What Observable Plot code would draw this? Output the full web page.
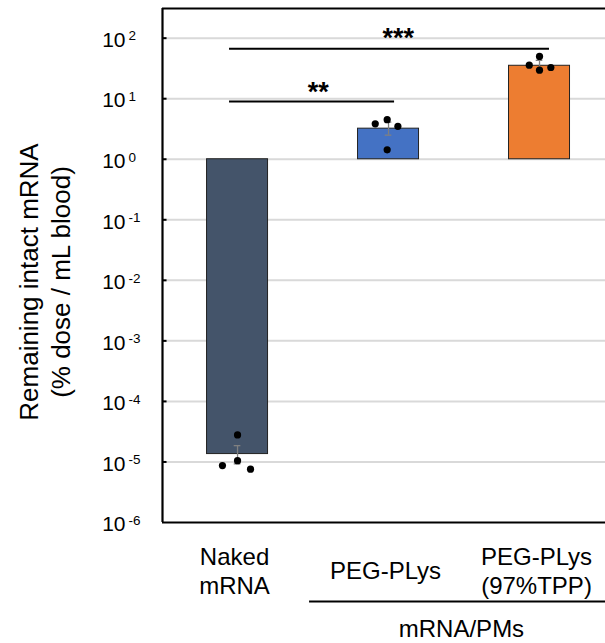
<!DOCTYPE html>
<html>
<head>
<meta charset="utf-8">
<script src="https://cdn.jsdelivr.net/npm/d3@7"></script>
<script src="https://cdn.jsdelivr.net/npm/@observablehq/plot@0.6"></script>
<style>
  html, body { margin: 0; padding: 0; background: #fff; }
</style>
</head>
<body>
<div id="chart"></div>
<script>
// ---- data ----
const categories = ["Naked\nmRNA", "PEG-PLys", "PEG-PLys\n(97%TPP)"];
const barMeans = [1.35e-5, 3.2, 35];
const errLow = [9.3e-6, 2.5, 30];
const errHigh = [1.86e-5, 4.1, 43];
const barColors = ["#44546a", "#4472c4", "#ed7d31"];

const pointGroup = [0, 0, 0, 0, 1, 1, 1, 1, 2, 2, 2, 2];
const pointValue = [2.8e-5, 8.7e-6, 1.05e-5, 7.6e-6, 3.85, 4.5, 3.5, 1.43, 50, 35.8, 29.6, 32.8];
const pointJitter = [0, -0.1, 0, 0.086, -0.088, -0.009, 0.062, -0.009, 0, -0.068, 0, 0.075];

const tickExponents = [-6, -5, -4, -3, -2, -1, 0, 1, 2];
const yTitle = "Remaining intact mRNA\n(% dose / mL blood)";

const sigFrom = [-0.053, -0.053];
const sigTo = [1.04, 2.066];
const sigLevel = [9, 67];
const sigStarLevel = [12.5, 100];
const sigStarPos = [0.534, 1.064];
const sigText = ["**", "***"];

const groupLabel = "mRNA/PMs";
const groupFrom = 0.477;
const groupLabelPos = 1.483;

// ---- layout ----
const xMin = -0.497, xMax = 2.437;
const yMin = 1e-6, yMax = Math.pow(10, 2.49);
const font = "'Liberation Sans', Arial, Helvetica, sans-serif";

const bars = categories.map((c, i) => ({i, c, mean: barMeans[i], lo: errLow[i], hi: errHigh[i], color: barColors[i]}));
const points = pointValue.map((v, k) => ({g: pointGroup[k], v, j: pointJitter[k]}));
const ticks = tickExponents.map(e => ({e, v: Math.pow(10, e)}));
const grid = ticks.filter(t => t.e > -6);
const sigs = sigText.map((t, k) => ({t, x1: sigFrom[k], x2: sigTo[k], y: sigLevel[k], sy: sigStarLevel[k], sx: sigStarPos[k]}));

const chart = Plot.plot({
  width: 605,
  height: 643,
  marginLeft: 162,
  marginRight: 0,
  marginTop: 8,
  marginBottom: 121,
  x: {type: "linear", domain: [xMin, xMax], axis: null},
  y: {type: "log", domain: [yMin, yMax], axis: null},
  color: {type: "identity"},
  style: {fontFamily: font, background: "#fff", color: "#000", overflow: "visible"},
  marks: [
    // grid lines
    Plot.ruleY(grid, {y: "v", stroke: "#d9d9d9", strokeWidth: 2}),
    // bars
    Plot.rect(bars, {x1: d => d.i - 0.202, x2: d => d.i + 0.202, y1: 1, y2: "mean", fill: "color", stroke: "#222", strokeWidth: 1}),
    // error bars
    Plot.ruleX(bars, {x: "i", y1: "lo", y2: "hi", stroke: "#808080", strokeWidth: 1.3}),
    Plot.ruleY(bars, {y: "hi", x1: d => d.i - 0.022, x2: d => d.i + 0.022, stroke: "#808080", strokeWidth: 1.3}),
    Plot.ruleY(bars, {y: "lo", x1: d => d.i - 0.022, x2: d => d.i + 0.022, stroke: "#808080", strokeWidth: 1.3}),
    // individual points
    Plot.dot(points, {x: d => d.g + d.j, y: "v", r: 3.6, fill: "#000", stroke: "none"}),
    // frame (left, top, bottom)
    Plot.ruleX([xMin], {stroke: "#000", strokeWidth: 2.2}),
    Plot.ruleY([yMax], {stroke: "#000", strokeWidth: 2.2}),
    Plot.ruleY([yMin], {stroke: "#000", strokeWidth: 2.2}),
    // inward ticks
    Plot.ruleY(grid, {y: "v", x1: xMin, x2: xMin + 0.03, stroke: "#000", strokeWidth: 2}),
    // y tick labels: base and exponent
    Plot.text(ticks, {x: xMin, y: "v", text: () => "10", textAnchor: "end", dx: -37, dy: 2, fontSize: 21, fontFamily: font, fill: "#000"}),
    Plot.text(ticks, {x: xMin, y: "v", text: d => String(d.e), textAnchor: "start", dx: -34, dy: -2, fontSize: 13.5, fontFamily: font, fill: "#000"}),
    // y title
    Plot.text([yTitle], {frameAnchor: "left", text: d => d, rotate: -90, textAnchor: "middle", dx: -119, dy: 16.5, fontSize: 26, lineHeight: 1.23, fontFamily: font, fill: "#000", lineAnchor: "middle"}),
    // category labels
    Plot.text(bars, {x: "i", frameAnchor: "bottom", text: "c", dx: -3, dy: 47.7, fontSize: 24, lineHeight: 1.2, fontFamily: font, fill: "#000", lineAnchor: "middle"}),
    // group line and label
    Plot.ruleY([yMin], {x1: groupFrom, x2: xMax, dy: 79, stroke: "#000", strokeWidth: 2}),
    Plot.text([groupLabel], {x: groupLabelPos, frameAnchor: "bottom", text: d => d, dy: 107, fontSize: 24, fontFamily: font, fill: "#000", lineAnchor: "middle"}),
    // significance
    Plot.ruleY(sigs, {y: "y", x1: "x1", x2: "x2", stroke: "#000", strokeWidth: 2}),
    Plot.text(sigs, {x: "sx", y: "sy", text: "t", fontSize: 27, fontWeight: "bold", fontFamily: font, fill: "#000", lineAnchor: "middle"})
  ]
});
document.getElementById("chart").appendChild(chart);
</script>
</body>
</html>
